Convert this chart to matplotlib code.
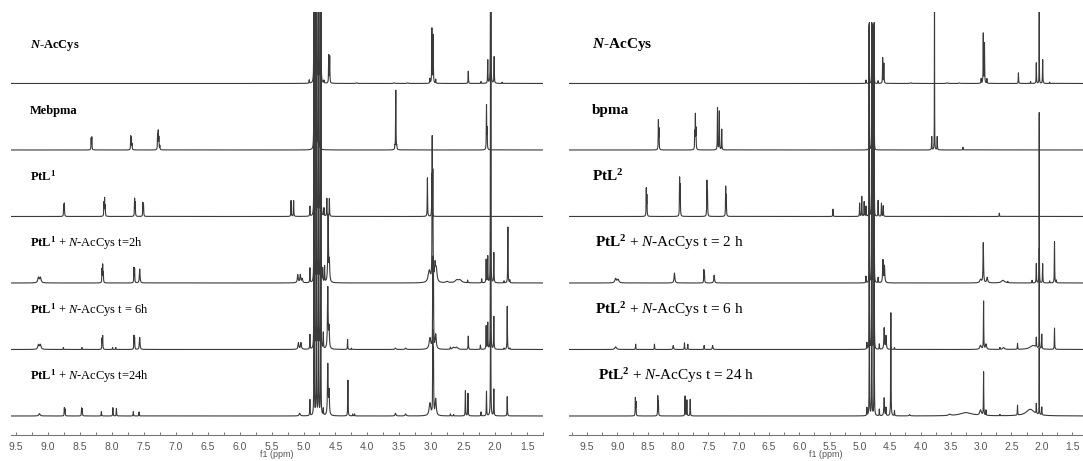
import numpy as np
import matplotlib.pyplot as plt
from matplotlib.ticker import MultipleLocator

plt.rcParams['mathtext.fontset'] = 'custom'
plt.rcParams['mathtext.rm'] = 'Liberation Serif'
plt.rcParams['mathtext.it'] = 'Liberation Serif:italic'
plt.rcParams['mathtext.bf'] = 'Liberation Serif:bold'
plt.rcParams['mathtext.bfit'] = 'Liberation Serif:italic:bold'

# ---------------- PEAK LISTS ----------------
# (shift in ppm, height, half width in ppm); height 1 = gap between two traces
# ---- left panel: Mebpma / PtL1 ----
left_nacys = [(4.91, 0.05), (4.835, 8, 0.0015), (4.80, 8, 0.0015), (4.765, 8, 0.0015),
              (4.73, 8, 0.0015), (4.68, 0.04), (4.605, 0.42), (4.59, 0.40),
              (4.17, 0.01, 0.01), (3.58, 0.01, 0.01), (3.37, 0.01, 0.01),
              (3.02, 0.07), (2.99, 0.82), (2.97, 0.72), (2.93, 0.06),
              (2.42, 0.185), (2.22, 0.03), (2.115, 0.35), (2.07, 8, 0.0015),
              (2.015, 0.40), (1.89, 0.02)]
left_mebpma = [(8.325, 0.17), (8.315, 0.185), (7.705, 0.2), (7.695, 0.17), (7.685, 0.08),
               (7.285, 0.22), (7.275, 0.27), (7.265, 0.18), (7.25, 0.06),
               (4.835, 8, 0.0015), (4.80, 8, 0.0015), (4.765, 8, 0.0015),
               (3.57, 0.05), (3.555, 0.9), (3.54, 0.05), (2.135, 0.66), (2.125, 0.3)]
left_ptl1 = [(8.755, 0.17), (8.745, 0.19), (8.125, 0.2), (8.115, 0.26), (8.105, 0.15),
             (7.645, 0.26), (7.635, 0.2), (7.515, 0.2), (7.505, 0.16),
             (5.195, 0.24), (5.155, 0.24), (4.90, 0.15),
             (4.835, 8, 0.0015), (4.80, 8, 0.0015), (4.765, 8, 0.0015), (4.73, 8, 0.0015),
             (4.68, 0.12), (4.635, 0.27), (4.595, 0.27), (3.06, 0.58), (2.99, 0.65)]
left_2h = [(9.15, 0.08, 0.012), (9.12, 0.08, 0.012), (8.155, 0.2), (8.145, 0.26),
           (8.135, 0.15), (7.655, 0.22), (7.645, 0.2), (7.565, 0.21, 0.006),
           (5.09, 0.12, 0.008), (5.05, 0.12, 0.008), (5.02, 0.06, 0.008), (4.90, 0.22),
           (4.835, 8, 0.0015), (4.80, 8, 0.0015), (4.765, 8, 0.0015), (4.73, 8, 0.0015),
           (4.70, 0.2), (4.67, 0.24), (4.615, 1.0, 0.006), (4.595, 0.3, 0.006),
           (3.03, 0.18, 0.02), (2.985, 2.05), (2.975, 1.5), (2.94, 0.26, 0.01),
           (2.92, 0.18, 0.012), (2.75, 0.02, 0.02), (2.6, 0.04, 0.03), (2.55, 0.04, 0.03),
           (2.43, 0.04), (2.21, 0.06), (2.14, 0.35), (2.115, 0.4), (2.07, 8, 0.0015),
           (2.02, 0.45), (1.86, 0.03), (1.80, 0.84), (1.77, 0.04)]
left_6h = [(9.15, 0.07, 0.012), (9.12, 0.07, 0.012), (8.76, 0.03), (8.47, 0.03),
           (8.155, 0.16), (8.145, 0.2), (7.99, 0.03), (7.94, 0.03), (7.655, 0.2),
           (7.645, 0.17), (7.565, 0.18, 0.006), (5.08, 0.1, 0.008), (5.04, 0.1, 0.008),
           (4.90, 0.22), (4.835, 8, 0.0015), (4.80, 8, 0.0015), (4.765, 8, 0.0015),
           (4.73, 8, 0.0015), (4.69, 0.24), (4.62, 0.92, 0.006), (4.60, 0.3, 0.006),
           (4.31, 0.15), (4.25, 0.02), (3.56, 0.02, 0.01), (3.40, 0.02, 0.01),
           (3.02, 0.17, 0.015), (2.975, 1.3), (2.965, 1.0), (2.93, 0.22, 0.01),
           (2.70, 0.03), (2.65, 0.03, 0.02), (2.60, 0.03, 0.02), (2.42, 0.2), (2.23, 0.065),
           (2.14, 0.35), (2.115, 0.4), (2.07, 8, 0.0015), (2.02, 0.49), (1.86, 0.02),
           (1.81, 0.65), (1.77, 0.02)]
left_24h = [(9.135, 0.035, 0.012), (8.745, 0.12), (8.735, 0.1), (8.475, 0.115),
            (8.465, 0.1), (8.165, 0.065), (7.985, 0.125), (7.93, 0.115), (7.665, 0.065),
            (7.575, 0.06), (5.06, 0.04, 0.01), (4.90, 0.24), (4.835, 8, 0.0015),
            (4.80, 8, 0.0015), (4.765, 8, 0.0015), (4.73, 8, 0.0015), (4.69, 0.1),
            (4.62, 0.76, 0.006), (4.60, 0.35, 0.006), (4.305, 0.54), (4.23, 0.03),
            (4.20, 0.03), (3.56, 0.04, 0.008), (3.40, 0.03, 0.01), (3.02, 0.19, 0.015),
            (2.975, 1.2), (2.965, 0.9), (2.93, 0.25, 0.01), (2.70, 0.03), (2.65, 0.02),
            (2.465, 0.38), (2.425, 0.34), (2.22, 0.06), (2.135, 0.37), (2.07, 8, 0.0015),
            (2.02, 0.4), (1.81, 0.29)]

# ---- right panel: bpma / PtL2 ----
right_nacys = [(4.90, 0.05), (4.845, 0.93, 0.0015), (4.805, 0.93, 0.0015),
               (4.765, 0.93, 0.0015), (4.70, 0.04), (4.625, 0.385), (4.605, 0.3),
               (4.16, 0.01, 0.01), (3.56, 0.01, 0.01), (3.36, 0.01, 0.01), (3.0, 0.07),
               (2.965, 0.75), (2.945, 0.6), (2.905, 0.07), (2.385, 0.16), (2.185, 0.03),
               (2.09, 0.31), (2.042, 1.5, 0.0015), (1.985, 0.36), (1.87, 0.02)]
right_bpma = [(8.325, 0.435), (8.315, 0.3), (7.725, 0.25), (7.715, 0.51), (7.705, 0.3),
              (7.35, 0.635), (7.32, 0.58), (7.28, 0.31),
              (4.845, 1.93, 0.0015), (4.805, 1.93, 0.0015), (4.765, 1.93, 0.0015),
              (3.815, 0.2), (3.77, 3.0, 0.0015), (3.725, 0.2), (3.30, 0.04)]
right_ptl2 = [(8.525, 0.41), (8.515, 0.3), (7.975, 0.56), (7.965, 0.45), (7.525, 0.52),
              (7.515, 0.35), (7.215, 0.435), (7.205, 0.3), (5.445, 0.11), (5.005, 0.2),
              (4.97, 0.3), (4.93, 0.22), (4.90, 0.15), (4.845, 2.93, 0.0015),
              (4.805, 2.93, 0.0015), (4.765, 2.93, 0.0015), (4.70, 0.24), (4.645, 0.2),
              (4.615, 0.16), (2.70, 0.05)]
right_2h = [(9.03, 0.065, 0.015), (8.99, 0.05, 0.015), (8.06, 0.15, 0.008), (7.575, 0.19),
            (7.565, 0.15), (7.405, 0.115, 0.007), (4.90, 0.1), (4.845, 3.93, 0.0015),
            (4.805, 3.93, 0.0015), (4.765, 3.93, 0.0015), (4.70, 0.08), (4.62, 0.34, 0.006),
            (4.595, 0.25, 0.006), (3.01, 0.05, 0.015), (2.965, 0.6, 0.005),
            (2.90, 0.08, 0.01), (2.64, 0.04, 0.03), (2.56, 0.02), (2.16, 0.04), (2.09, 0.29),
            (2.042, 2.56, 0.0015), (1.985, 0.29), (1.87, 0.03), (1.79, 0.62), (1.76, 0.04)]
right_6h = [(9.03, 0.04, 0.015), (8.70, 0.08), (8.39, 0.08), (8.08, 0.06, 0.006),
            (7.895, 0.1), (7.84, 0.08), (7.57, 0.06), (7.43, 0.06, 0.006), (4.885, 0.1),
            (4.845, 4.93, 0.0015), (4.805, 4.93, 0.0015), (4.765, 4.93, 0.0015),
            (4.68, 0.08), (4.60, 0.32, 0.006), (4.57, 0.2, 0.006), (4.49, 0.04), (4.43, 0.03),
            (3.01, 0.06, 0.015), (2.96, 0.72), (2.92, 0.08, 0.01), (2.69, 0.03),
            (2.63, 0.03, 0.015), (2.40, 0.09), (2.14, 0.06, 0.06), (2.09, 0.15),
            (2.042, 1.5, 0.0015), (2.00, 0.22), (1.79, 0.32)]
right_24h = [(8.705, 0.265), (8.695, 0.2), (8.335, 0.29), (8.325, 0.2), (7.885, 0.3),
             (7.855, 0.24), (7.80, 0.25), (4.885, 0.12), (4.845, 5.93, 0.0015),
             (4.805, 5.93, 0.0015), (4.765, 5.93, 0.0015), (4.68, 0.1), (4.60, 0.27, 0.006),
             (4.57, 0.12), (4.49, 1.55), (4.43, 0.08), (4.18, 0.02, 0.01), (3.52, 0.02, 0.02),
             (3.25, 0.05, 0.12), (3.01, 0.08, 0.015), (2.96, 0.65), (2.92, 0.08),
             (2.69, 0.02), (2.40, 0.15), (2.19, 0.1, 0.08), (2.09, 0.15),
             (2.042, 1.0, 0.0015), (2.00, 0.12)]

left_spectra = [left_nacys, left_mebpma, left_ptl1, left_2h, left_6h, left_24h]
right_spectra = [right_nacys, right_bpma, right_ptl2, right_2h, right_6h, right_24h]

left_labels = [r"$\mathbfit{N}$-AcCys", "Mebpma", r"PtL$^{\mathbf{1}}$",
               r"$\mathbf{PtL}^{\mathbf{1}}$ + $\mathit{N}$-AcCys t=2h",
               r"$\mathbf{PtL}^{\mathbf{1}}$ + $\mathit{N}$-AcCys t = 6h",
               r"$\mathbf{PtL}^{\mathbf{1}}$ + $\mathit{N}$-AcCys t=24h"]
right_labels = [r"$\mathbfit{N}$-AcCys", "bpma", r"PtL$^{\mathbf{2}}$",
                r"$\mathbf{PtL}^{\mathbf{2}}$ + $\mathit{N}$-AcCys t = 2 h",
                r"$\mathbf{PtL}^{\mathbf{2}}$ + $\mathit{N}$-AcCys t = 6 h",
                r"$\mathbf{PtL}^{\mathbf{2}}$ + $\mathit{N}$-AcCys t = 24 h"]
label_bold = [True, True, True, False, False, False]


def trace(ppm, peaks):
    y = np.zeros_like(ppm)
    for p in peaks:
        w = p[2] if len(p) > 2 else 0.003
        y += p[1] / (1 + ((ppm - p[0]) / w) ** 2)
    return y


ppm = np.arange(1.2, 9.9, 0.0004)

fig = plt.figure(figsize=(10.83, 4.61), dpi=100)
ax_l = fig.add_axes([0.0102, 0.0564, 0.4912, 0.9176])
ax_r = fig.add_axes([0.5254, 0.0564, 0.4746, 0.9176])

panels = [
    (ax_l, left_spectra, left_labels, (9.58, 1.25), 9, [0.036] * 6),
    (ax_r, right_spectra, right_labels, (9.80, 1.32), 11,
     [0.044, 0.044, 0.044, 0.05, 0.05, 0.057]),
]

tick_font = ["Liberation Sans Narrow", "Liberation Sans", "DejaVu Sans"]

for ax, spectra, labels, xlim, fs, lx in panels:
    n = len(spectra)
    for i, peaks in enumerate(spectra):
        off = n - 1 - i
        ax.plot(ppm, trace(ppm, peaks) + off, color="#3a3a3a", lw=0.8)
        ax.text(lx[i], off + 0.54, labels[i], transform=ax.get_yaxis_transform(),
                family="Liberation Serif", fontsize=fs, va="baseline", ha="left",
                fontweight="bold" if label_bold[i] else "normal")
    ax.set_xlim(*xlim)
    ax.set_ylim(-0.286, 6.075)
    for s in ["top", "left", "right"]:
        ax.spines[s].set_visible(False)
    ax.spines["bottom"].set_color("#777777")
    ax.spines["bottom"].set_linewidth(0.8)
    ax.set_yticks([])
    ax.xaxis.set_major_locator(MultipleLocator(0.5))
    ax.xaxis.set_minor_locator(MultipleLocator(0.25))
    ax.tick_params(axis="x", which="both", direction="in", length=2.5, width=0.7,
                   color="#777777", labelcolor="#555555", labelsize=7.5, pad=5)
    for t in ax.get_xticklabels():
        t.set_family(tick_font)
    ax.set_xlabel("f1 (ppm)", fontsize=6.5, color="#555555", labelpad=-1.5,
                  family=tick_font)
    ax.patch.set_alpha(0)

fig.savefig("out.png", dpi=100)
